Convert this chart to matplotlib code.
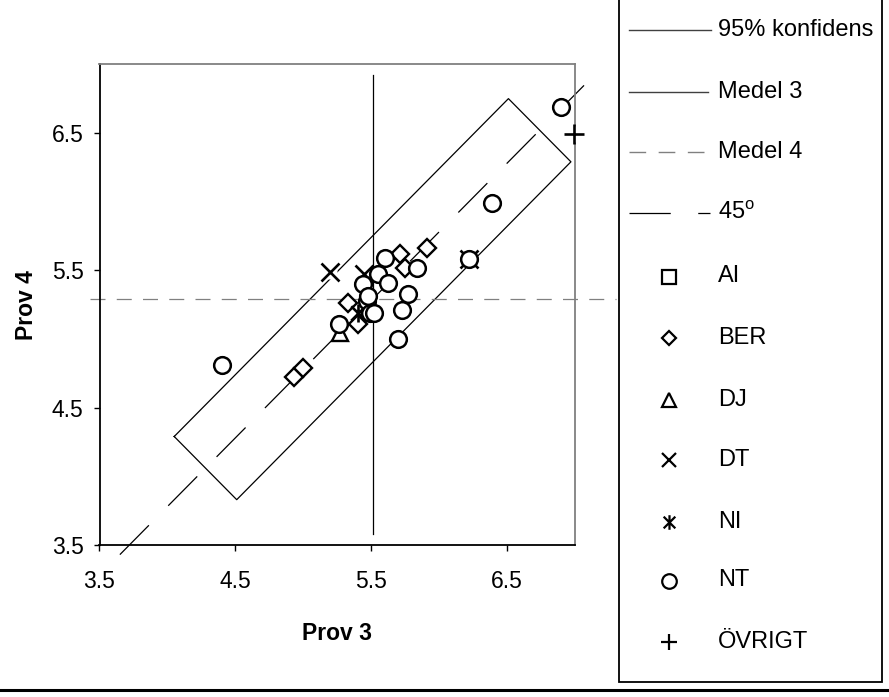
import matplotlib
matplotlib.use('Agg')
import matplotlib.pyplot as plt
from matplotlib.path import Path
from matplotlib.patches import Rectangle

plt.rcParams['font.family'] = ['Liberation Sans', 'DejaVu Sans']
plt.rcParams['mathtext.fontset'] = 'custom'
plt.rcParams['mathtext.rm'] = 'Liberation Sans'

# ---------------- data ----------------
ticks = [3.5, 4.5, 5.5, 6.5]
tick_labels = ['3.5', '4.5', '5.5', '6.5']

konf_x = [4.05, 6.51, 6.97, 4.51, 4.05]
konf_y = [4.29, 6.75, 6.29, 3.83, 4.29]

medel3_x = [5.51, 5.51]
medel3_y = [3.58, 6.92]
medel4_x = [3.43, 7.30]
medel4_y = [5.29, 5.29]
line45_x = [3.65, 7.07]
line45_y = [3.43, 6.85]

ai_x, ai_y = [], []
ber_x = [4.93, 5.00, 5.33, 5.40, 5.71, 5.75, 5.91]
ber_y = [4.72, 4.79, 5.26, 5.11, 5.62, 5.52, 5.66]
dj_x = [5.27]
dj_y = [5.04]
dt_x = [5.20, 5.45, 6.22]
dt_y = [5.49, 5.47, 5.58]
ni_x = [5.40]
ni_y = [5.19]
nt_x = [4.40, 5.26, 5.44, 5.47, 5.48, 5.49, 5.52, 5.55, 5.60, 5.62,
        5.70, 5.73, 5.77, 5.84, 6.22, 6.39, 6.90]
nt_y = [4.81, 5.11, 5.40, 5.28, 5.31, 5.19, 5.19, 5.475, 5.59, 5.41,
        5.00, 5.21, 5.325, 5.52, 5.58, 5.99, 6.69]
ovr_x = [6.99]
ovr_y = [6.49]

legend_names = ['95% konfidens', 'Medel 3', 'Medel 4', r'45$^{\mathrm{o}}$',
                'AI', 'BER', 'DJ', 'DT', 'NI', 'NT', 'ÖVRIGT']

# ---------------- figure ----------------
W, H = 889, 697
fig = plt.figure(figsize=(W / 100, H / 100), dpi=100)
fig.patch.set_facecolor('white')

ax = fig.add_axes([99.5 / W, (H - 545) / H, 475.5 / W, 480.7 / H])
ax.set_xlim(3.5, 7.0)
ax.set_ylim(3.5, 7.0)

FS = 16.5
ax.set_xticks(ticks)
ax.set_xticklabels(tick_labels)
ax.set_yticks(ticks)
ax.set_yticklabels(tick_labels)
ax.tick_params(axis='both', direction='out', length=4.5, width=1.0,
               labelsize=FS, colors='black')
ax.tick_params(axis='x', pad=13.5)
ax.tick_params(axis='y', pad=7)

for s in ['left', 'bottom']:
    ax.spines[s].set_color('black')
    ax.spines[s].set_linewidth(1.3)
for s in ['top', 'right']:
    ax.spines[s].set_color('#808080')
    ax.spines[s].set_linewidth(1.3)

ax.set_xlabel('Prov 3', fontsize=FS, fontweight='bold', labelpad=21)
ax.set_ylabel('Prov 4', fontsize=FS, fontweight='bold', labelpad=10)

DASH45 = (33, 22)
DASHM4 = (12, 9)

# lines
ax.plot(konf_x, konf_y, color='black', lw=0.9, clip_on=False, zorder=2)
ax.plot(medel3_x, medel3_y, color='black', lw=0.9, clip_on=False, zorder=2)
ax.plot(medel4_x, medel4_y, color='#808080', lw=0.9, clip_on=False, zorder=2,
        dashes=DASHM4)
ax.plot(line45_x, line45_y, color='black', lw=0.9, clip_on=False, zorder=2,
        dashes=DASH45)

# asterisk marker
ast = Path([(-1, -1), (1, 1), (-1, 1), (1, -1), (0, -1.25), (0, 1.25)],
           [Path.MOVETO, Path.LINETO, Path.MOVETO, Path.LINETO,
            Path.MOVETO, Path.LINETO])


def scat(x, y, marker, ms, mew=1.7, filled=True, bg=False):
    if bg:
        ax.plot(x, y, ls='none', marker='s', ms=ms * 0.75, mfc='white',
                mec='none', clip_on=False, zorder=3)
    ax.plot(x, y, ls='none', marker=marker, ms=ms, mew=mew,
            mfc='white' if filled else 'none', mec='black',
            clip_on=False, zorder=4)


scat(ai_x, ai_y, 's', 11)
scat(ber_x, ber_y, 'D', 9.5)
scat(dj_x, dj_y, '^', 12)
scat(dt_x, dt_y, 'x', 13, mew=1.9, filled=False, bg=True)
scat(ni_x, ni_y, ast, 13, mew=1.9, filled=False, bg=True)
scat(nt_x, nt_y, 'o', 12, mew=1.8)
scat(ovr_x, ovr_y, '+', 14.5, mew=1.9, filled=False, bg=True)

# ---------------- legend (pixel coordinates) ----------------
lax = fig.add_axes([0, 0, 1, 1], zorder=-1)
lax.set_xlim(0, W)
lax.set_ylim(H, 0)
lax.axis('off')
lax.patch.set_alpha(0)

lax.add_patch(Rectangle((619, -5), 263, 687, fill=False, ec='black', lw=1.3))
lax.plot([0, W], [690, 690], color='black', lw=2.2)

rows = [30, 91.5, 152, 213, 276.5, 337.5, 400, 460, 521.5, 580.5, 641.5]
tx = 718
lax.plot([629, 711], [rows[0]] * 2, color='#404040', lw=1.0)
lax.plot([629, 708], [rows[1]] * 2, color='#404040', lw=1.0)
lax.plot([629, 708], [rows[2]] * 2, color='#808080', lw=1.0, dashes=DASHM4)
lax.plot([629, 710], [rows[3]] * 2, color='black', lw=0.9, dashes=DASH45)

lm = [('s', 9.5, 1.6), ('D', 7.5, 1.6), ('^', 10, 1.6), ('x', 10, 1.6),
      (ast, 10.5, 1.6), ('o', 10.5, 1.6), ('+', 11.5, 1.6)]
for (m, ms, mew), yy in zip(lm, rows[4:]):
    lax.plot([669], [yy], ls='none', marker=m, ms=ms, mew=mew,
             mfc='white', mec='black')

for name, yy in zip(legend_names, rows):
    lax.text(tx, yy, name, fontsize=17, va='center', ha='left')

fig.savefig('out.png', dpi=100, facecolor='white')
